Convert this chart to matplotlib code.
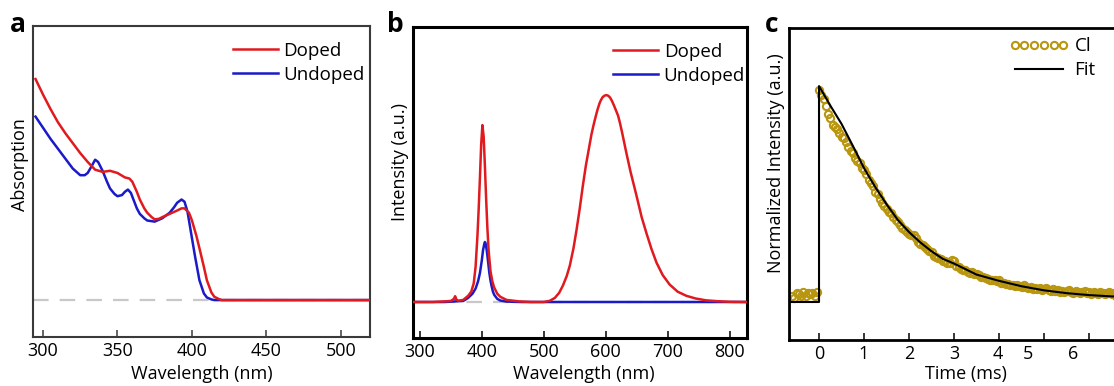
import numpy as np
import matplotlib
matplotlib.use("Agg")
import matplotlib.pyplot as plt
from matplotlib.transforms import ScaledTranslation

plt.rcParams['font.family'] = ['Open Sans', 'DejaVu Sans']
plt.rcParams['font.size'] = 13

# ---------------- (a) absorption spectra ----------------
abs_wl_doped = [295, 300, 305, 310, 315, 320, 325, 330, 335, 340, 345, 350, 355, 358,
                360, 363, 365, 368, 370, 373, 375, 378, 380, 385, 390, 393, 395, 398,
                400, 403, 405, 408, 410, 413, 415, 418, 420, 450, 480, 520]
abs_doped = [1.0, 0.93, 0.865, 0.805, 0.755, 0.71, 0.665, 0.625, 0.59, 0.58, 0.585, 0.575,
             0.555, 0.55, 0.535, 0.49, 0.455, 0.415, 0.395, 0.375, 0.365, 0.368, 0.375,
             0.39, 0.405, 0.415, 0.415, 0.395, 0.36, 0.29, 0.235, 0.15, 0.09, 0.035,
             0.015, 0.005, 0.0, 0.0, 0.0, 0.0]

abs_wl_undoped = [295, 300, 305, 310, 315, 320, 325, 328, 330, 333, 335, 337, 340, 343,
                  345, 348, 350, 353, 355, 357, 359, 361, 363, 365, 368, 370, 375, 380,
                  385, 388, 390, 393, 395, 397, 400, 402, 405, 408, 410, 413, 415, 450, 520]
abs_undoped = [0.83, 0.78, 0.73, 0.685, 0.64, 0.595, 0.565, 0.565, 0.575, 0.61, 0.635,
               0.625, 0.585, 0.535, 0.505, 0.48, 0.47, 0.475, 0.49, 0.5, 0.485, 0.45,
               0.415, 0.39, 0.37, 0.36, 0.355, 0.37, 0.395, 0.42, 0.44, 0.455, 0.445,
               0.4, 0.28, 0.2, 0.09, 0.03, 0.012, 0.003, 0.0, 0.0, 0.0]

# ---------------- (b) emission spectra ----------------
pl_wl_doped = [289, 300, 320, 340, 350, 355, 357, 359, 362, 370, 378, 383, 387, 390, 393,
               395, 397, 399, 401, 403, 405, 407, 409, 411, 414, 417, 420, 425, 430, 440,
               460, 480, 500, 510, 518, 525, 531, 537, 542, 548, 553, 558, 563, 568, 574,
               577, 580, 582, 585, 587, 590, 592, 595, 598, 601, 604, 607, 610, 613, 616,
               620, 623, 626, 633, 640, 650, 658, 666, 674, 682, 692, 703, 716, 730, 745,
               762, 780, 800, 828]
pl_doped = [0.0, 0.0, 0.0, 0.003, 0.005, 0.015, 0.028, 0.012, 0.006, 0.01, 0.03, 0.05,
            0.09, 0.17, 0.32, 0.45, 0.6, 0.76, 0.855, 0.8, 0.66, 0.5, 0.36, 0.25, 0.15,
            0.1, 0.07, 0.04, 0.025, 0.01, 0.003, 0.0, 0.0, 0.006, 0.02, 0.045, 0.08,
            0.125, 0.175, 0.26, 0.35, 0.45, 0.56, 0.66, 0.76,
            0.81, 0.85, 0.875, 0.91, 0.932, 0.96, 0.974, 0.99, 0.997, 1.0, 0.997, 0.988,
            0.972, 0.952, 0.93, 0.9, 0.865, 0.825, 0.725, 0.63, 0.51, 0.41, 0.33, 0.255,
            0.19, 0.13, 0.085, 0.05, 0.03, 0.017, 0.008, 0.004, 0.001, 0.0]

pl_wl_undoped = [289, 340, 370, 378, 385, 390, 394, 397, 400, 402, 404, 405, 406, 408, 410,
                 412, 414, 416, 418, 420, 425, 430, 440, 460, 828]
pl_undoped = [0.0, 0.0, 0.005, 0.02, 0.04, 0.065, 0.1, 0.14, 0.2, 0.25, 0.28, 0.29, 0.285,
              0.25, 0.2, 0.145, 0.105, 0.075, 0.05, 0.035, 0.015, 0.007, 0.002, 0.0, 0.0]

# ---------------- (c) luminescence decay ----------------
decay_t0 = -0.6      # first sample time (ms)
decay_dt = 0.05      # sampling step (ms)
decay_cl = [0.03, 0.02, 0.04, 0.035, 0.03, 0.045, 0.03, 0.04, 0.035, 0.04,
            0.03, 0.045, 0.98, 0.96, 0.94, 0.91, 0.87, 0.85, 0.82, 0.81,
            0.80, 0.785, 0.765, 0.76, 0.74, 0.72, 0.70, 0.69, 0.665, 0.655,
            0.645, 0.62, 0.61, 0.595, 0.565, 0.55, 0.535, 0.51, 0.50, 0.475,
            0.46, 0.445, 0.43, 0.415, 0.41, 0.395, 0.38, 0.37, 0.355, 0.345,
            0.335, 0.325, 0.315, 0.31, 0.31, 0.295, 0.28, 0.27, 0.265, 0.255,
            0.245, 0.235, 0.23, 0.215, 0.21, 0.205, 0.2, 0.19, 0.19, 0.18,
            0.18, 0.195, 0.19, 0.165, 0.16, 0.155, 0.15, 0.15, 0.14, 0.135,
            0.14, 0.13, 0.13, 0.125, 0.115, 0.115, 0.11, 0.105, 0.1, 0.1,
            0.1, 0.095, 0.1, 0.09, 0.09, 0.085, 0.085, 0.08, 0.08, 0.075,
            0.08, 0.075, 0.07, 0.08, 0.07, 0.065, 0.07, 0.06, 0.065, 0.06,
            0.065, 0.055, 0.06, 0.065, 0.055, 0.05, 0.06, 0.05, 0.055, 0.045,
            0.05, 0.045, 0.05, 0.055, 0.045, 0.04, 0.05, 0.045, 0.04, 0.045,
            0.05, 0.04, 0.045, 0.035, 0.045, 0.04, 0.035, 0.045, 0.04, 0.035,
            0.04, 0.045, 0.035, 0.04, 0.03, 0.04, 0.035, 0.03, 0.04, 0.035,
            0.03, 0.035, 0.03]
decay_time = decay_t0 + decay_dt * np.arange(len(decay_cl))

fit_time = [-0.65, 0.0, 0.0, 0.25, 0.5, 0.75, 1.0, 1.25, 1.5, 1.75, 2.0, 2.25, 2.5, 2.75,
            3.0, 3.5, 4.0, 4.5, 5.0, 5.5, 6.0, 6.5, 7.0, 7.5]
fit_val = [0.0, 0.0, 1.0, 0.91, 0.825, 0.724, 0.62, 0.532, 0.453, 0.38, 0.324, 0.276,
           0.235, 0.2, 0.178, 0.127, 0.098, 0.073, 0.054, 0.041, 0.032, 0.026, 0.022, 0.02]

time_ticks = [0, 1, 2, 3, 4, 5, 6]

RED = '#E01A1E'
BLUE = '#1A1AC8'
GOLD = '#B8960F'
GREY = '#C8C8C8'

W, H = 1114, 386
fig = plt.figure(figsize=(W / 100, H / 100), dpi=100)


def px_axes(left, top, right, bottom):
    return fig.add_axes([left / W, 1 - bottom / H, (right - left) / W, (bottom - top) / H])


def style_axes(ax, spine_w, spine_c):
    for s in ax.spines.values():
        s.set_linewidth(spine_w)
        s.set_color(spine_c)
    ax.tick_params(axis='x', direction='in', length=5, width=1.1, pad=3.5,
                   labelsize=13, color=spine_c, top=False)
    ax.tick_params(axis='y', left=False, labelleft=False)


legend_kw = dict(loc='upper left', frameon=False, borderaxespad=0, borderpad=0,
                 handletextpad=0.3, labelspacing=0.32, fontsize=13.5)

# panel a
ax1 = px_axes(33, 26, 370, 337)
ax1.axhline(0, color=GREY, lw=1.6, dashes=(7, 5), zorder=1)
ax1.plot(abs_wl_undoped, abs_undoped, color=BLUE, lw=1.8, label='Undoped', zorder=2)
ax1.plot(abs_wl_doped, abs_doped, color=RED, lw=1.8, label='Doped', zorder=3)
ax1.set_xlim(293.3, 519.5)
ax1.set_ylim(-0.167, 1.24)
ax1.set_xticks([300, 350, 400, 450, 500])
style_axes(ax1, 1.5, '#3a3a3a')
ax1.set_xlabel('Wavelength (nm)', fontsize=13)
ax1.xaxis.set_label_coords(0.5, (337 - 365) / 311)
ax1.set_ylabel('Absorption', fontsize=13)
ax1.yaxis.set_label_coords(-0.012, 0.553)
h, l = ax1.get_legend_handles_labels()
ax1.legend(h[::-1], l[::-1], bbox_to_anchor=(0.593, 0.95), handlelength=2.4, **legend_kw)

# panel b
ax2 = px_axes(413, 27, 747, 338)
ax2.axhline(0, color=GREY, lw=1.6, dashes=(7, 5), zorder=1)
ax2.plot(pl_wl_undoped, pl_undoped, color=BLUE, lw=1.8, label='Undoped', zorder=2)
ax2.plot(pl_wl_doped, pl_doped, color=RED, lw=1.8, label='Doped', zorder=3)
ax2.set_xlim(289, 828)
ax2.set_ylim(-0.174, 1.329)
ax2.set_xticks([300, 400, 500, 600, 700, 800])
style_axes(ax2, 2.2, 'black')
ax2.set_xlabel('Wavelength (nm)', fontsize=13)
ax2.xaxis.set_label_coords(0.51, (338 - 365) / 311)
ax2.set_ylabel('Intensity (a.u.)', fontsize=13)
ax2.yaxis.set_label_coords(-0.012, 0.566)
h, l = ax2.get_legend_handles_labels()
ax2.legend(h[::-1], l[::-1], bbox_to_anchor=(0.599, 0.95), handlelength=2.4, **legend_kw)

# panel c (extends past the right edge of the canvas)
ax3 = px_axes(789, 28, 1200, 340)
ax3.plot(decay_time, decay_cl, linestyle='none', marker='o', markersize=5.2,
         markerfacecolor='none', markeredgecolor=GOLD, markeredgewidth=1.5,
         label='Cl', zorder=2)
ax3.plot(fit_time, fit_val, color='black', lw=1.5, label='Fit', zorder=3)
ax3.set_xlim(-0.667, -0.667 + 411 / 45)
ax3.set_ylim(-0.176, 1.269)
ax3.set_xticks(time_ticks)
style_axes(ax3, 2.0, 'black')
shifts = {4: -1, 5: -16, 6: -16}
for tick_val, lab in zip(time_ticks, ax3.get_xticklabels()):
    if tick_val in shifts:
        lab.set_transform(lab.get_transform() +
                          ScaledTranslation(shifts[tick_val] / 100, 0, fig.dpi_scale_trans))
ax3.set_xlabel('Time (ms)', fontsize=13)
ax3.xaxis.set_label_coords((966 - 789) / 411, (340 - 365) / 312)
ax3.set_ylabel('Normalized Intensity (a.u.)', fontsize=13)
ax3.yaxis.set_label_coords(-0.01, 0.567)
ax3.legend(bbox_to_anchor=(0.535, 0.97), handlelength=3.2, numpoints=6, **legend_kw)

# panel letters
for x0, letter in [(10, 'a'), (387, 'b'), (765, 'c')]:
    fig.text(x0 / W, 1 - 32 / H, letter, fontsize=19, fontweight='bold',
             ha='left', va='baseline')

fig.savefig('out.png', dpi=100)
